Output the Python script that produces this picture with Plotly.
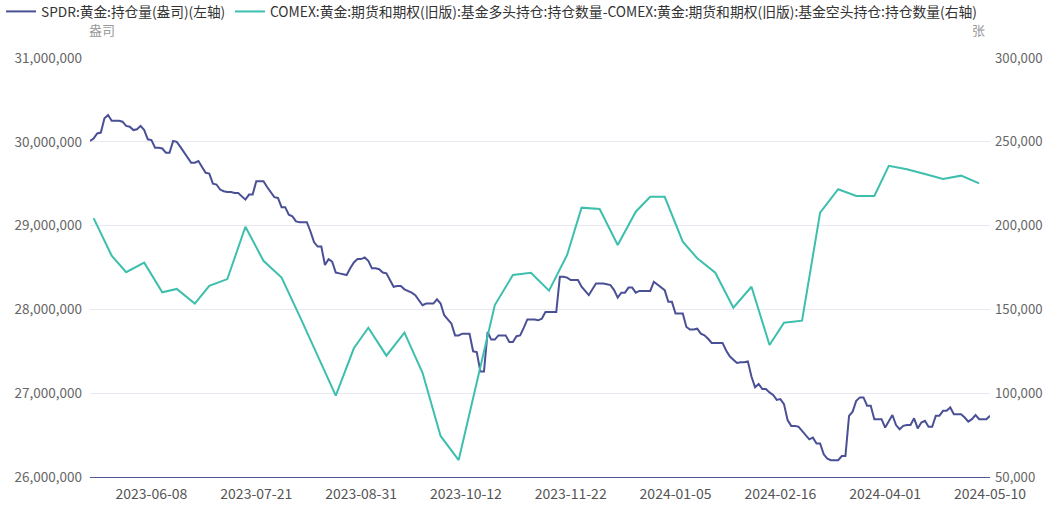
import pandas as pd
import plotly.graph_objects as go

# ---------------- data ----------------
holidays = ['2023-05-29', '2023-06-19', '2023-07-04', '2023-09-04', '2023-11-23',
            '2023-12-25', '2024-01-01', '2024-01-15', '2024-02-19', '2024-03-29']
dates = [d.strftime('%Y-%m-%d') for d in pd.bdate_range('2023-05-15', '2024-05-10')
         if d.strftime('%Y-%m-%d') not in holidays]

spdr_m = [
    30.01, 30.04, 30.10, 30.11, 30.28, 30.32, 30.25, 30.25, 30.25, 30.24,
    30.19, 30.18, 30.14, 30.15, 30.19, 30.14, 30.03, 30.02, 29.93, 29.93,
    29.92, 29.87, 29.87, 30.01, 30.00, 29.94, 29.88, 29.82, 29.75, 29.75,
    29.77, 29.70, 29.63, 29.62, 29.50, 29.49, 29.43, 29.41, 29.40, 29.40,
    29.39, 29.39, 29.35, 29.31, 29.37, 29.37, 29.53, 29.53, 29.53, 29.46,
    29.40, 29.34, 29.33, 29.22, 29.22, 29.13, 29.11, 29.05, 29.04, 29.04,
    29.04, 28.93, 28.80, 28.75, 28.75, 28.53, 28.60, 28.57, 28.44, 28.43,
    28.42, 28.41, 28.49, 28.56, 28.60, 28.60, 28.62, 28.58, 28.49, 28.49,
    28.48, 28.44, 28.43, 28.35, 28.27, 28.28, 28.28, 28.24, 28.22, 28.20,
    28.17, 28.11, 28.05, 28.07, 28.07, 28.07, 28.12, 28.07, 27.93, 27.88,
    27.83, 27.69, 27.69, 27.71, 27.71, 27.71, 27.50, 27.49, 27.26, 27.26,
    27.73, 27.64, 27.64, 27.69, 27.69, 27.69, 27.61, 27.61, 27.68, 27.69,
    27.78, 27.88, 27.88, 27.88, 27.87, 27.89, 27.97, 27.97, 27.97, 27.97,
    28.39, 28.39, 28.38, 28.35, 28.35, 28.35, 28.27, 28.22, 28.17, 28.24,
    28.31, 28.31, 28.31, 28.30, 28.29, 28.23, 28.14, 28.20, 28.20, 28.26,
    28.26, 28.20, 28.22, 28.22, 28.22, 28.22, 28.33, 28.30, 28.26, 28.23,
    28.09, 28.09, 27.95, 27.95, 27.95, 27.79, 27.76, 27.76, 27.77, 27.71,
    27.69, 27.65, 27.60, 27.60, 27.60, 27.60, 27.51, 27.44, 27.40, 27.36,
    27.37, 27.37, 27.38, 27.20, 27.07, 27.11, 27.05, 27.05, 27.01, 26.98,
    26.92, 26.93, 26.87, 26.68, 26.61, 26.61, 26.60, 26.55, 26.50, 26.45,
    26.47, 26.40, 26.40, 26.27, 26.22, 26.20, 26.20, 26.20, 26.25, 26.25,
    26.73, 26.78, 26.91, 26.95, 26.95, 26.85, 26.85, 26.69, 26.69, 26.69,
    26.59, 26.66, 26.74, 26.62, 26.57, 26.61, 26.62, 26.62, 26.70, 26.58,
    26.65, 26.67, 26.60, 26.60, 26.73, 26.73, 26.79, 26.79, 26.83, 26.75,
    26.75, 26.75, 26.71, 26.66, 26.69, 26.74, 26.69, 26.69, 26.69, 26.73,
]
spdr = [round(v * 1e6) for v in spdr_m]

comex_dates = [
    '2023-05-16', '2023-05-23', '2023-05-30', '2023-06-06', '2023-06-13', '2023-06-20',
    '2023-06-27', '2023-07-03', '2023-07-11', '2023-07-18', '2023-07-25', '2023-08-01',
    '2023-08-08', '2023-08-15', '2023-08-22', '2023-08-29', '2023-09-05', '2023-09-12',
    '2023-09-19', '2023-09-26', '2023-10-03', '2023-10-10', '2023-10-17', '2023-10-24',
    '2023-10-31', '2023-11-07', '2023-11-14', '2023-11-21', '2023-11-28', '2023-12-05',
    '2023-12-12', '2023-12-19', '2023-12-26', '2024-01-02', '2024-01-09', '2024-01-16',
    '2024-01-23', '2024-01-30', '2024-02-06', '2024-02-13', '2024-02-20', '2024-02-27',
    '2024-03-05', '2024-03-12', '2024-03-19', '2024-03-26', '2024-04-02', '2024-04-09',
    '2024-04-16', '2024-04-23', '2024-04-30', '2024-05-07',
]
comex_net = [
    204500, 182000, 172200, 177900, 160200, 162200,
    153500, 164000, 168100, 199300, 179000, 169000,
    146000, 122000, 98500, 126800, 139100, 122400,
    136100, 112200, 74500, 60100, 106500, 152600,
    170500, 171900, 161200, 182500, 210700, 209900,
    188400, 208300, 217200, 217200, 190400, 180500,
    171900, 151000, 163500, 128800, 142100, 143300,
    207700, 221700, 217700, 217700, 235700, 233600,
    230800, 227800, 229800, 225200,
]

tick_dates = ['2023-06-08', '2023-07-21', '2023-08-31', '2023-10-12', '2023-11-22',
              '2024-01-05', '2024-02-16', '2024-04-01', '2024-05-10']

name1 = 'SPDR:黄金:持仓量(盎司)(左轴)'
name2 = 'COMEX:黄金:期货和期权(旧版):基金多头持仓:持仓数量-COMEX:黄金:期货和期权(旧版):基金空头持仓:持仓数量(右轴)'

# ---------------- figure ----------------
FONT = 'Noto Sans CJK SC'
C1 = '#4a5095'
C2 = '#3dbfad'
PH = 419.0
PW = 900.0

fig = go.Figure()
fig.add_trace(go.Scatter(x=dates, y=spdr, name=name1, mode='lines',
                         line=dict(color=C1, width=2), yaxis='y', legend='legend'))
fig.add_trace(go.Scatter(x=comex_dates, y=comex_net, name=name2, mode='lines',
                         line=dict(color=C2, width=2), yaxis='y2', legend='legend2'))

leg_common = dict(orientation='h', xanchor='left', yanchor='top',
                  itemwidth=30, bgcolor='rgba(0,0,0,0)')

fig.update_layout(
    width=1060, height=506,
    margin=dict(l=90, r=70, t=58, b=29, autoexpand=False),
    paper_bgcolor='white', plot_bgcolor='white',
    font=dict(family=FONT, size=12, color='#666666'),
    showlegend=True,
    legend=dict(x=(1 - 90) / PW, y=1 + 62 / PH,
                font=dict(family=FONT, size=13.7, color='#333333'), **leg_common),
    legend2=dict(x=(230 - 90) / PW, y=1 + 62 / PH,
                 font=dict(family=FONT, size=13.8, color='#333333'), **leg_common),
    xaxis=dict(type='category', categoryorder='array', categoryarray=dates,
               range=[0, len(dates) - 1], tickmode='array', tickvals=tick_dates,
               ticktext=tick_dates, showgrid=False, zeroline=False,
               showline=True, linecolor='#4e5794', linewidth=1,
               ticks='', ticklabelstandoff=4,
               tickfont=dict(size=14, color='#555555')),
    yaxis=dict(range=[26000000, 31000000], dtick=1000000, tickformat=',',
               showgrid=True, gridcolor='#e8e8f3', gridwidth=1, zeroline=False,
               showline=False, ticks='', ticklabelstandoff=7,
               tickfont=dict(size=13.5, color='#666666')),
    yaxis2=dict(range=[50000, 300000], dtick=50000, tickformat=',',
                overlaying='y', side='right', showgrid=False, zeroline=False,
                showline=False, ticks='', ticklabelstandoff=4,
                tickfont=dict(size=13.2, color='#666666')),
    annotations=[
        dict(text='盎司', xref='paper', yref='paper', x=12 / PW, y=1 + 28 / PH,
             xanchor='center', yanchor='middle', showarrow=False,
             font=dict(family=FONT, size=13, color='#999999')),
        dict(text='张', xref='paper', yref='paper', x=(978 - 90) / PW, y=1 + 28 / PH,
             xanchor='center', yanchor='middle', showarrow=False,
             font=dict(family=FONT, size=13, color='#999999')),
    ],
)

fig.write_html('out.html', config={'displayModeBar': False},
               post_script="document.body.style.margin='0';document.body.style.overflow='hidden';")
